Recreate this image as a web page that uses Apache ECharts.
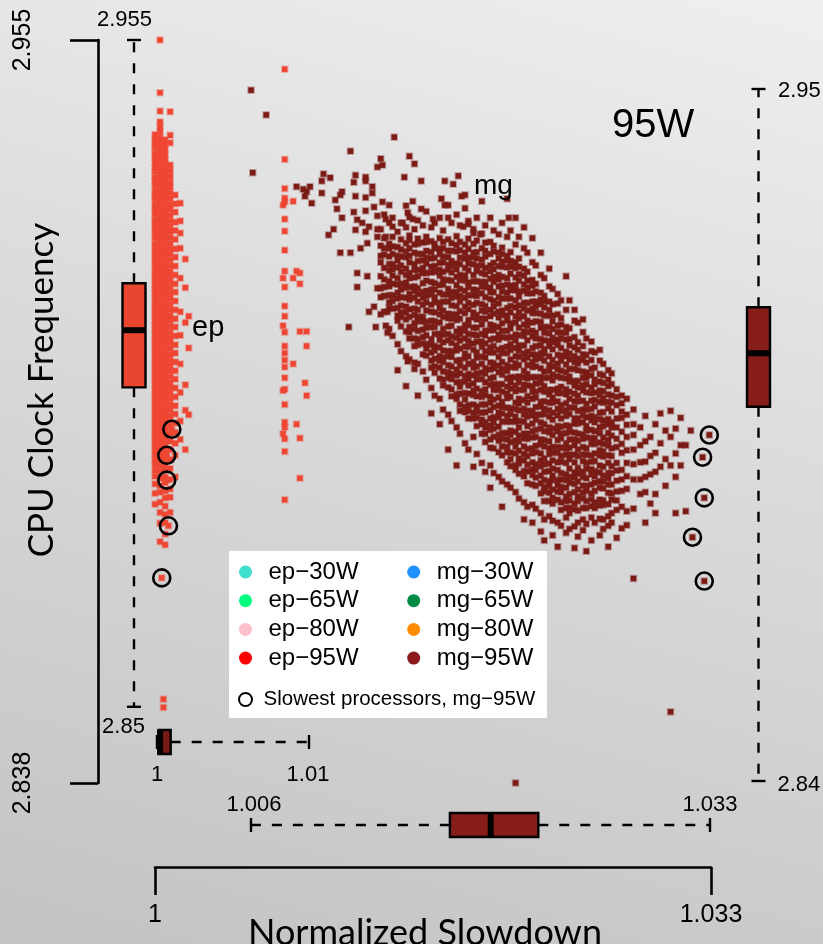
<!DOCTYPE html>
<html>
<head>
<meta charset="utf-8">
<script src="https://cdn.jsdelivr.net/npm/echarts@6/dist/echarts.min.js"></script>
<style>
  html, body { margin: 0; padding: 0; }
  #chart {
    width: 823px; height: 944px;
    background: linear-gradient(195deg, #efefef 0%, #dadada 45%, #c3c3c3 100%);
  }
</style>
</head>
<body>
<div id="chart"></div>
<script>
// Normalized slowdown (x) against CPU clock frequency in GHz (y), 95W power cap.
// Column entries: [slowdown, [frequencies of processors measured at that slowdown]]

const epColumns = [
  [1.0000, [2.9401, 2.9394, 2.9386, 2.9380, 2.9371, 2.9365, 2.9357, 2.9349, 2.9343, 2.9334, 2.9328, 2.9320, 2.9311, 2.9305, 2.9298, 2.9289, 2.9283, 2.9276, 2.9267, 2.9261, 2.9253, 2.9246, 2.9239, 2.9230, 2.9224, 2.9217, 2.9209, 2.9202, 2.9195, 2.9187, 2.9180, 2.9173, 2.9165, 2.9159, 2.9151, 2.9144, 2.9136, 2.9130, 2.9122, 2.9115, 2.9107, 2.9101, 2.9093, 2.9086, 2.9078, 2.9072, 2.9064, 2.9057, 2.9049, 2.9043, 2.9035, 2.9028, 2.9020, 2.9014, 2.9006, 2.8999, 2.8991, 2.8985, 2.8977, 2.8970, 2.8962, 2.8956, 2.8948, 2.8941, 2.8933, 2.8927, 2.8919, 2.8912, 2.8904, 2.8897, 2.8889, 2.8881, 2.8872, 2.8863, 2.8851, 2.8836, 2.8819]],
  [1.0003, [2.9550, 2.9467, 2.9438, 2.9421, 2.9413, 2.9406, 2.9397, 2.9391, 2.9383, 2.9375, 2.9368, 2.9361, 2.9353, 2.9346, 2.9338, 2.9331, 2.9324, 2.9316, 2.9309, 2.9301, 2.9294, 2.9287, 2.9279, 2.9272, 2.9264, 2.9257, 2.9250, 2.9242, 2.9235, 2.9227, 2.9220, 2.9213, 2.9205, 2.9198, 2.9190, 2.9183, 2.9176, 2.9168, 2.9161, 2.9153, 2.9146, 2.9139, 2.9131, 2.9124, 2.9116, 2.9109, 2.9102, 2.9094, 2.9087, 2.9079, 2.9072, 2.9065, 2.9057, 2.9050, 2.9042, 2.9035, 2.9028, 2.9020, 2.9013, 2.9005, 2.8998, 2.8991, 2.8983, 2.8976, 2.8968, 2.8961, 2.8954, 2.8946, 2.8939, 2.8931, 2.8924, 2.8917, 2.8909, 2.8902, 2.8894, 2.8887, 2.8879, 2.8870, 2.8860, 2.8848, 2.8838, 2.8822, 2.8806, 2.8789, 2.8760]],
  [1.0006, [2.9393, 2.9385, 2.9377, 2.9370, 2.9362, 2.9355, 2.9347, 2.9340, 2.9332, 2.9325, 2.9317, 2.9310, 2.9302, 2.9295, 2.9287, 2.9280, 2.9272, 2.9265, 2.9257, 2.9250, 2.9242, 2.9235, 2.9227, 2.9220, 2.9212, 2.9205, 2.9197, 2.9190, 2.9182, 2.9175, 2.9167, 2.9160, 2.9152, 2.9145, 2.9137, 2.9130, 2.9122, 2.9115, 2.9107, 2.9100, 2.9092, 2.9085, 2.9077, 2.9070, 2.9062, 2.9055, 2.9047, 2.9040, 2.9032, 2.9025, 2.9017, 2.9010, 2.9002, 2.8995, 2.8987, 2.8980, 2.8972, 2.8965, 2.8957, 2.8950, 2.8942, 2.8935, 2.8927, 2.8920, 2.8912, 2.8905, 2.8897, 2.8890, 2.8881, 2.8873, 2.8862, 2.8853, 2.8840, 2.8829, 2.8816, 2.8803, 2.8790, 2.8772, 2.8755]],
  [1.0009, [2.9437, 2.9400, 2.9388, 2.9353, 2.9344, 2.9335, 2.9326, 2.9318, 2.9309, 2.9300, 2.9291, 2.9283, 2.9274, 2.9265, 2.9256, 2.9248, 2.9239, 2.9230, 2.9221, 2.9213, 2.9204, 2.9195, 2.9186, 2.9178, 2.9169, 2.9160, 2.9151, 2.9143, 2.9134, 2.9125, 2.9116, 2.9108, 2.9099, 2.9090, 2.9081, 2.9073, 2.9064, 2.9055, 2.9046, 2.9038, 2.9029, 2.9020, 2.9011, 2.9003, 2.8994, 2.8985, 2.8976, 2.8968, 2.8959, 2.8950, 2.8941, 2.8930, 2.8918, 2.8905, 2.8889, 2.8875, 2.8858, 2.8843, 2.8830, 2.8806]],
  [1.0012, [2.9306, 2.9292, 2.9279, 2.9263, 2.9250, 2.9236, 2.9221, 2.9208, 2.9194, 2.9180, 2.9166, 2.9153, 2.9139, 2.9125, 2.9111, 2.9098, 2.9084, 2.9070, 2.9057, 2.9043, 2.9029, 2.9016, 2.9002, 2.8988, 2.8974, 2.8961, 2.8947, 2.8932, 2.8915, 2.8896, 2.8862]],
  [1.0015, [2.9293, 2.9265, 2.9246, 2.9222, 2.9175, 2.9122, 2.9085, 2.9040, 2.8995, 2.8950, 2.8921]],
  [1.0018, [2.9205, 2.9160, 2.9105, 2.9007, 2.8967, 2.8905]],
  [1.0020, [2.9115, 2.9065, 2.8960]],
  [1.0005, [2.8512, 2.8499]],
  [1.0076, [2.9290, 2.9175, 2.9100, 2.8998, 2.8930]],
  [1.0077, [2.9504, 2.9362, 2.9316, 2.9301, 2.9295, 2.9268, 2.9249, 2.9219, 2.9186, 2.9161, 2.9131, 2.9115, 2.9090, 2.9068, 2.9057, 2.9046, 2.9035, 2.9018, 2.9000, 2.8976, 2.8948, 2.8940, 2.8922, 2.8902, 2.8826]],
  [1.0082, [2.9296, 2.9175, 2.9040]],
  [1.0084, [2.9186, 2.8945]],
  [1.0086, [2.9183, 2.9166, 2.9091, 2.8923, 2.8860]],
  [1.0089, [2.9010]],
  [1.0090, [2.9091, 2.9068, 2.8990]]
];

// Scattered mg processors around the upper-left of the cloud: [slowdown, frequency]
const mgFringe = [
  [1.0057, 2.9471], [1.0058, 2.9341], [1.0066, 2.9432],
  [1.0142, 2.9397], [1.0116, 2.9375], [1.0151, 2.9367], [1.0134, 2.9363], [1.0135, 2.9353], [1.0132, 2.9350], [1.0154, 2.9355],
  [1.0100, 2.9339], [1.0104, 2.9333], [1.0119, 2.9337], [1.0125, 2.9334], [1.0125, 2.9328], [1.0118, 2.9326], [1.0148, 2.9334],
  [1.0158, 2.9328], [1.0172, 2.9328], [1.0180, 2.9336], [1.0177, 2.9323], [1.0182, 2.9304], [1.0184, 2.9306],
  [1.0084, 2.9319], [1.0088, 2.9315], [1.0090, 2.9311], [1.0092, 2.9319], [1.0099, 2.9309], [1.0089, 2.9304], [1.0093, 2.9293], [1.0099, 2.9328],
  [1.0111, 2.9311], [1.0110, 2.9306], [1.0119, 2.9304], [1.0125, 2.9302], [1.0129, 2.9309], [1.0129, 2.9319], [1.0107, 2.9298],
  [1.0135, 2.9295], [1.0153, 2.9296], [1.0170, 2.9300], [1.0172, 2.9290], [1.0158, 2.9284], [1.0149, 2.9289],
  [1.0108, 2.9284], [1.0118, 2.9279], [1.0125, 2.9281], [1.0130, 2.9287], [1.0132, 2.9273], [1.0137, 2.9268], [1.0111, 2.9270],
  [1.0120, 2.9267], [1.0123, 2.9262], [1.0127, 2.9256], [1.0132, 2.9252], [1.0106, 2.9252], [1.0103, 2.9243], [1.0119, 2.9251],
  [1.0125, 2.9248], [1.0132, 2.9240], [1.0137, 2.9240], [1.0141, 2.9256], [1.0147, 2.9262], [1.0150, 2.9278], [1.0153, 2.9268],
  [1.0165, 2.9268], [1.0174, 2.9270], [1.0186, 2.9265], [1.0183, 2.9256], [1.0189, 2.9246], [1.0193, 2.9244], [1.0210, 2.9270],
  [1.0110, 2.9215], [1.0116, 2.9215], [1.0122, 2.9222], [1.0126, 2.9230], [1.0120, 2.9183], [1.0126, 2.9178], [1.0120, 2.9161],
  [1.0132, 2.9159], [1.0127, 2.9122], [1.0130, 2.9130], [1.0115, 2.9098], [1.0131, 2.9098], [1.0137, 2.9100], [1.0138, 2.9089],
  [1.0150, 2.9044], [1.0154, 2.9042], [1.0138, 2.9122]
];

const mgColumns = [
  [1.0134, [2.9252, 2.9226, 2.9210, 2.9200, 2.9178, 2.9159, 2.9145, 2.9118]],
  [1.0136, [2.9275, 2.9238, 2.9222, 2.9212, 2.9191, 2.9173, 2.9161, 2.9147, 2.9122]],
  [1.0139, [2.9290, 2.9262, 2.9229, 2.9222, 2.9209, 2.9197, 2.9187, 2.9170, 2.9162, 2.9148, 2.9137, 2.9128, 2.9095]],
  [1.0141, [2.9270, 2.9240, 2.9225, 2.9213, 2.9197, 2.9189, 2.9179, 2.9166, 2.9148, 2.9139, 2.9127, 2.9084]],
  [1.0144, [2.9248, 2.9224, 2.9210, 2.9203, 2.9192, 2.9175, 2.9165, 2.9152, 2.9143, 2.9128, 2.9116, 2.9108, 2.9071, 2.9030]],
  [1.0146, [2.9262, 2.9236, 2.9220, 2.9209, 2.9195, 2.9185, 2.9166, 2.9157, 2.9145, 2.9132, 2.9121, 2.9114, 2.9099, 2.9060]],
  [1.0149, [2.9255, 2.9230, 2.9217, 2.9208, 2.9190, 2.9180, 2.9168, 2.9160, 2.9144, 2.9130, 2.9121, 2.9110, 2.9091, 2.9052, 2.9005]],
  [1.0151, [2.9271, 2.9242, 2.9235, 2.9222, 2.9210, 2.9200, 2.9183, 2.9175, 2.9161, 2.9150, 2.9141, 2.9126, 2.9114, 2.9098, 2.9090, 2.9080, 2.9047]],
  [1.0154, [2.9252, 2.9228, 2.9215, 2.9197, 2.9188, 2.9176, 2.9162, 2.9155, 2.9144, 2.9127, 2.9117, 2.9104, 2.9095, 2.9080, 2.9068, 2.9032]],
  [1.0156, [2.9266, 2.9237, 2.9229, 2.9213, 2.9202, 2.9188, 2.9178, 2.9159, 2.9150, 2.9138, 2.9125, 2.9114, 2.9107, 2.9092, 2.9079, 2.9070, 2.9040, 2.8990]],
  [1.0159, [2.9258, 2.9231, 2.9213, 2.9203, 2.9191, 2.9183, 2.9167, 2.9153, 2.9144, 2.9133, 2.9114, 2.9107, 2.9094, 2.9082, 2.9072, 2.9055, 2.9028]],
  [1.0161, [2.9280, 2.9240, 2.9232, 2.9218, 2.9207, 2.9198, 2.9183, 2.9171, 2.9155, 2.9147, 2.9137, 2.9124, 2.9106, 2.9097, 2.9085, 2.9071, 2.9064, 2.9053, 2.9015]],
  [1.0164, [2.9255, 2.9233, 2.9216, 2.9206, 2.9193, 2.9184, 2.9169, 2.9157, 2.9149, 2.9133, 2.9122, 2.9108, 2.9098, 2.9079, 2.9070, 2.9058, 2.9045, 2.9034, 2.9002, 2.8962]],
  [1.0166, [2.9262, 2.9229, 2.9222, 2.9207, 2.9194, 2.9185, 2.9167, 2.9157, 2.9145, 2.9137, 2.9121, 2.9107, 2.9098, 2.9087, 2.9068, 2.9061, 2.9048, 2.9036, 2.9026, 2.8990]],
  [1.0169, [2.9270, 2.9238, 2.9221, 2.9213, 2.9199, 2.9188, 2.9179, 2.9164, 2.9152, 2.9136, 2.9128, 2.9118, 2.9105, 2.9087, 2.9078, 2.9066, 2.9052, 2.9045, 2.9034, 2.9017, 2.8985, 2.8945]],
  [1.0171, [2.9250, 2.9232, 2.9222, 2.9209, 2.9200, 2.9185, 2.9173, 2.9165, 2.9149, 2.9138, 2.9124, 2.9114, 2.9095, 2.9086, 2.9074, 2.9061, 2.9050, 2.9043, 2.9028, 2.9015, 2.9006, 2.8968]],
  [1.0174, [2.9290, 2.9236, 2.9218, 2.9208, 2.9196, 2.9188, 2.9172, 2.9158, 2.9149, 2.9138, 2.9119, 2.9112, 2.9099, 2.9087, 2.9077, 2.9060, 2.9052, 2.9038, 2.9027, 2.9018, 2.9003, 2.8960, 2.8905]],
  [1.0176, [2.9262, 2.9230, 2.9218, 2.9202, 2.9194, 2.9184, 2.9171, 2.9153, 2.9144, 2.9132, 2.9118, 2.9111, 2.9100, 2.9083, 2.9073, 2.9060, 2.9051, 2.9036, 2.9024, 2.9016, 2.9000, 2.8989, 2.8950]],
  [1.0179, [2.9275, 2.9241, 2.9227, 2.9217, 2.9198, 2.9189, 2.9177, 2.9164, 2.9153, 2.9146, 2.9131, 2.9118, 2.9109, 2.9091, 2.9081, 2.9069, 2.9061, 2.9045, 2.9031, 2.9022, 2.9011, 2.8992, 2.8985, 2.8940, 2.8880]],
  [1.0181, [2.9258, 2.9232, 2.9219, 2.9207, 2.9197, 2.9180, 2.9172, 2.9158, 2.9147, 2.9138, 2.9123, 2.9111, 2.9095, 2.9087, 2.9077, 2.9064, 2.9046, 2.9037, 2.9025, 2.9011, 2.9004, 2.8993, 2.8976, 2.8966, 2.8930]],
  [1.0184, [2.9285, 2.9228, 2.9215, 2.9206, 2.9191, 2.9179, 2.9171, 2.9155, 2.9144, 2.9130, 2.9120, 2.9101, 2.9092, 2.9080, 2.9067, 2.9056, 2.9049, 2.9034, 2.9021, 2.9012, 2.8994, 2.8984, 2.8972, 2.8964, 2.8915]],
  [1.0186, [2.9260, 2.9237, 2.9221, 2.9207, 2.9198, 2.9187, 2.9168, 2.9161, 2.9148, 2.9136, 2.9126, 2.9109, 2.9101, 2.9087, 2.9076, 2.9067, 2.9052, 2.9040, 2.9024, 2.9016, 2.9006, 2.8993, 2.8975, 2.8966, 2.8954, 2.8905]],
  [1.0189, [2.9252, 2.9229, 2.9215, 2.9208, 2.9197, 2.9180, 2.9170, 2.9157, 2.9148, 2.9133, 2.9121, 2.9113, 2.9097, 2.9086, 2.9072, 2.9062, 2.9043, 2.9034, 2.9022, 2.9009, 2.8998, 2.8991, 2.8976, 2.8963, 2.8954, 2.8925, 2.8878]],
  [1.0191, [2.9270, 2.9234, 2.9216, 2.9206, 2.9194, 2.9186, 2.9170, 2.9156, 2.9147, 2.9136, 2.9117, 2.9110, 2.9097, 2.9085, 2.9075, 2.9058, 2.9050, 2.9036, 2.9025, 2.9016, 2.9001, 2.8989, 2.8973, 2.8965, 2.8955, 2.8942, 2.8898]],
  [1.0194, [2.9296, 2.9245, 2.9222, 2.9204, 2.9195, 2.9183, 2.9169, 2.9162, 2.9151, 2.9134, 2.9124, 2.9111, 2.9102, 2.9087, 2.9075, 2.9067, 2.9051, 2.9040, 2.9026, 2.9016, 2.8997, 2.8988, 2.8976, 2.8963, 2.8952, 2.8945, 2.8930, 2.8884]],
  [1.0196, [2.9258, 2.9231, 2.9218, 2.9209, 2.9191, 2.9181, 2.9169, 2.9161, 2.9145, 2.9131, 2.9122, 2.9111, 2.9092, 2.9085, 2.9072, 2.9060, 2.9050, 2.9033, 2.9025, 2.9011, 2.9000, 2.8991, 2.8976, 2.8964, 2.8948, 2.8940, 2.8930, 2.8917, 2.8870]],
  [1.0199, [2.9270, 2.9232, 2.9213, 2.9195, 2.9186, 2.9174, 2.9160, 2.9153, 2.9142, 2.9125, 2.9115, 2.9102, 2.9093, 2.9078, 2.9066, 2.9058, 2.9042, 2.9031, 2.9017, 2.9007, 2.8988, 2.8979, 2.8967, 2.8954, 2.8943, 2.8936, 2.8921, 2.8908, 2.8880, 2.8845]],
  [1.0201, [2.9250, 2.9226, 2.9217, 2.9199, 2.9189, 2.9177, 2.9169, 2.9153, 2.9139, 2.9130, 2.9119, 2.9100, 2.9093, 2.9080, 2.9068, 2.9058, 2.9041, 2.9033, 2.9019, 2.9008, 2.8999, 2.8984, 2.8972, 2.8956, 2.8948, 2.8938, 2.8925, 2.8907, 2.8868]],
  [1.0204, [2.9244, 2.9215, 2.9206, 2.9194, 2.9180, 2.9173, 2.9162, 2.9145, 2.9135, 2.9122, 2.9113, 2.9098, 2.9086, 2.9078, 2.9062, 2.9051, 2.9037, 2.9027, 2.9008, 2.8999, 2.8987, 2.8974, 2.8963, 2.8956, 2.8941, 2.8928, 2.8919, 2.8901, 2.8862]],
  [1.0206, [2.9262, 2.9223, 2.9213, 2.9201, 2.9193, 2.9177, 2.9163, 2.9154, 2.9143, 2.9124, 2.9117, 2.9104, 2.9092, 2.9082, 2.9065, 2.9057, 2.9043, 2.9032, 2.9023, 2.9008, 2.8996, 2.8980, 2.8972, 2.8962, 2.8949, 2.8931, 2.8922, 2.8910, 2.8896, 2.8855, 2.8815]],
  [1.0209, [2.9300, 2.9240, 2.9210, 2.9203, 2.9192, 2.9175, 2.9165, 2.9152, 2.9143, 2.9128, 2.9116, 2.9108, 2.9092, 2.9081, 2.9067, 2.9057, 2.9038, 2.9029, 2.9017, 2.9004, 2.8993, 2.8986, 2.8971, 2.8958, 2.8949, 2.8931, 2.8921, 2.8909, 2.8901, 2.8885, 2.8850]],
  [1.0211, [2.9250, 2.9216, 2.9202, 2.9193, 2.9182, 2.9163, 2.9156, 2.9143, 2.9131, 2.9121, 2.9104, 2.9096, 2.9082, 2.9071, 2.9062, 2.9047, 2.9035, 2.9019, 2.9011, 2.9001, 2.8988, 2.8970, 2.8961, 2.8949, 2.8935, 2.8928, 2.8917, 2.8900, 2.8890, 2.8879, 2.8845]],
  [1.0214, [2.9270, 2.9228, 2.9200, 2.9191, 2.9176, 2.9164, 2.9156, 2.9140, 2.9129, 2.9115, 2.9105, 2.9086, 2.9077, 2.9065, 2.9052, 2.9041, 2.9034, 2.9019, 2.9006, 2.8997, 2.8979, 2.8969, 2.8957, 2.8949, 2.8933, 2.8919, 2.8910, 2.8899, 2.8880, 2.8873, 2.8838, 2.8380]],
  [1.0216, [2.9240, 2.9206, 2.9193, 2.9181, 2.9171, 2.9154, 2.9146, 2.9132, 2.9121, 2.9112, 2.9097, 2.9085, 2.9069, 2.9061, 2.9051, 2.9038, 2.9020, 2.9011, 2.8999, 2.8985, 2.8978, 2.8967, 2.8950, 2.8940, 2.8927, 2.8918, 2.8903, 2.8891, 2.8883, 2.8867, 2.8828]],
  [1.0219, [2.9255, 2.9222, 2.9190, 2.9179, 2.9165, 2.9155, 2.9136, 2.9127, 2.9115, 2.9102, 2.9091, 2.9084, 2.9069, 2.9056, 2.9047, 2.9029, 2.9019, 2.9007, 2.8999, 2.8983, 2.8969, 2.8960, 2.8949, 2.8930, 2.8923, 2.8910, 2.8898, 2.8888, 2.8871, 2.8863, 2.8822, 2.8795]],
  [1.0221, [2.9215, 2.9185, 2.9171, 2.9160, 2.9151, 2.9136, 2.9124, 2.9108, 2.9100, 2.9090, 2.9077, 2.9059, 2.9050, 2.9038, 2.9024, 2.9017, 2.9006, 2.8989, 2.8979, 2.8966, 2.8957, 2.8942, 2.8930, 2.8922, 2.8906, 2.8895, 2.8881, 2.8871, 2.8852, 2.8815]],
  [1.0224, [2.9238, 2.9200, 2.9172, 2.9163, 2.9151, 2.9138, 2.9127, 2.9120, 2.9105, 2.9092, 2.9083, 2.9065, 2.9055, 2.9043, 2.9035, 2.9019, 2.9005, 2.8996, 2.8985, 2.8966, 2.8959, 2.8946, 2.8934, 2.8924, 2.8907, 2.8899, 2.8885, 2.8874, 2.8865, 2.8850, 2.8818, 2.8790]],
  [1.0226, [2.9195, 2.9166, 2.9154, 2.9138, 2.9130, 2.9120, 2.9107, 2.9089, 2.9080, 2.9068, 2.9054, 2.9047, 2.9036, 2.9019, 2.9009, 2.8996, 2.8987, 2.8972, 2.8960, 2.8952, 2.8936, 2.8925, 2.8911, 2.8901, 2.8882, 2.8873, 2.8861, 2.8848, 2.8812]],
  [1.0229, [2.9215, 2.9180, 2.9152, 2.9141, 2.9134, 2.9119, 2.9106, 2.9097, 2.9079, 2.9069, 2.9057, 2.9049, 2.9033, 2.9019, 2.9010, 2.8999, 2.8980, 2.8973, 2.8960, 2.8948, 2.8938, 2.8921, 2.8913, 2.8899, 2.8888, 2.8879, 2.8864, 2.8852, 2.8836, 2.8805, 2.8776]],
  [1.0231, [2.9175, 2.9147, 2.9139, 2.9129, 2.9116, 2.9098, 2.9089, 2.9077, 2.9063, 2.9056, 2.9045, 2.9028, 2.9018, 2.9005, 2.8996, 2.8981, 2.8969, 2.8961, 2.8945, 2.8934, 2.8920, 2.8910, 2.8891, 2.8882, 2.8870, 2.8857, 2.8846, 2.8839, 2.8824, 2.8795, 2.8762]],
  [1.0234, [2.9190, 2.9162, 2.9138, 2.9125, 2.9116, 2.9098, 2.9088, 2.9076, 2.9068, 2.9052, 2.9038, 2.9029, 2.9018, 2.8999, 2.8992, 2.8979, 2.8967, 2.8957, 2.8940, 2.8932, 2.8918, 2.8907, 2.8898, 2.8883, 2.8871, 2.8855, 2.8847, 2.8837, 2.8824, 2.8800]],
  [1.0236, [2.9158, 2.9134, 2.9116, 2.9107, 2.9095, 2.9081, 2.9074, 2.9063, 2.9046, 2.9036, 2.9023, 2.9014, 2.8999, 2.8987, 2.8979, 2.8963, 2.8952, 2.8938, 2.8928, 2.8909, 2.8900, 2.8888, 2.8875, 2.8864, 2.8857, 2.8842, 2.8829, 2.8820, 2.8793, 2.8770]],
  [1.0239, [2.9150, 2.9135, 2.9118, 2.9100, 2.9090, 2.9078, 2.9070, 2.9054, 2.9040, 2.9031, 2.9020, 2.9001, 2.8994, 2.8981, 2.8969, 2.8959, 2.8942, 2.8934, 2.8920, 2.8909, 2.8900, 2.8885, 2.8873, 2.8857, 2.8849, 2.8839, 2.8826, 2.8790, 2.8752]],
  [1.0241, [2.9140, 2.9112, 2.9102, 2.9089, 2.9080, 2.9065, 2.9053, 2.9045, 2.9029, 2.9018, 2.9004, 2.8994, 2.8975, 2.8966, 2.8954, 2.8941, 2.8930, 2.8923, 2.8908, 2.8895, 2.8886, 2.8868, 2.8858, 2.8846, 2.8838, 2.8822, 2.8810, 2.8785]],
  [1.0244, [2.9178, 2.9125, 2.9098, 2.9089, 2.9078, 2.9059, 2.9052, 2.9039, 2.9027, 2.9017, 2.9000, 2.8992, 2.8978, 2.8967, 2.8958, 2.8943, 2.8931, 2.8915, 2.8907, 2.8897, 2.8884, 2.8866, 2.8857, 2.8845, 2.8831, 2.8824, 2.8813, 2.8798, 2.8774]],
  [1.0246, [2.9140, 2.9096, 2.9079, 2.9069, 2.9056, 2.9047, 2.9032, 2.9020, 2.9012, 2.8996, 2.8985, 2.8971, 2.8961, 2.8942, 2.8933, 2.8921, 2.8908, 2.8897, 2.8890, 2.8875, 2.8862, 2.8853, 2.8835, 2.8825, 2.8813, 2.8805, 2.8780]],
  [1.0249, [2.9125, 2.9108, 2.9082, 2.9066, 2.9052, 2.9043, 2.9032, 2.9013, 2.9006, 2.8993, 2.8981, 2.8971, 2.8954, 2.8946, 2.8932, 2.8921, 2.8912, 2.8897, 2.8885, 2.8869, 2.8861, 2.8851, 2.8838, 2.8820, 2.8811, 2.8784, 2.8750]],
  [1.0251, [2.9105, 2.9074, 2.9062, 2.9048, 2.9041, 2.9030, 2.9013, 2.9003, 2.8990, 2.8981, 2.8966, 2.8954, 2.8946, 2.8930, 2.8919, 2.8905, 2.8895, 2.8876, 2.8867, 2.8855, 2.8842, 2.8831, 2.8824, 2.8809, 2.8790, 2.8768]],
  [1.0254, [2.9110, 2.9090, 2.9068, 2.9055, 2.9046, 2.9028, 2.9018, 2.9006, 2.8998, 2.8982, 2.8968, 2.8959, 2.8948, 2.8929, 2.8922, 2.8909, 2.8897, 2.8887, 2.8870, 2.8862, 2.8848, 2.8837, 2.8828, 2.8813, 2.8795, 2.8778]],
  [1.0256, [2.9080, 2.9054, 2.9042, 2.9026, 2.9018, 2.9008, 2.8995, 2.8977, 2.8968, 2.8956, 2.8942, 2.8935, 2.8924, 2.8907, 2.8897, 2.8884, 2.8875, 2.8860, 2.8848, 2.8840, 2.8824, 2.8813, 2.8788, 2.8745]],
  [1.0259, [2.9075, 2.9060, 2.9046, 2.9032, 2.9022, 2.9003, 2.8994, 2.8982, 2.8969, 2.8958, 2.8951, 2.8936, 2.8923, 2.8914, 2.8896, 2.8886, 2.8874, 2.8866, 2.8850, 2.8836, 2.8827, 2.8816, 2.8798, 2.8762]],
  [1.0261, [2.9058, 2.9034, 2.9015, 2.9008, 2.8995, 2.8983, 2.8973, 2.8956, 2.8948, 2.8934, 2.8923, 2.8914, 2.8899, 2.8887, 2.8871, 2.8863, 2.8853, 2.8840, 2.8822, 2.8813, 2.8790]],
  [1.0264, [2.9062, 2.9045, 2.9024, 2.9012, 2.8998, 2.8991, 2.8980, 2.8963, 2.8953, 2.8940, 2.8931, 2.8916, 2.8904, 2.8896, 2.8880, 2.8869, 2.8855, 2.8845, 2.8826, 2.8817, 2.8796, 2.8770]],
  [1.0266, [2.9040, 2.9022, 2.9010, 2.8997, 2.8986, 2.8979, 2.8964, 2.8951, 2.8942, 2.8924, 2.8914, 2.8902, 2.8894, 2.8878, 2.8864, 2.8855, 2.8844, 2.8825, 2.8818, 2.8795, 2.8780]],
  [1.0269, [2.9030, 2.9015, 2.9005, 2.8992, 2.8980, 2.8970, 2.8953, 2.8945, 2.8931, 2.8920, 2.8911, 2.8896, 2.8884, 2.8868, 2.8860, 2.8850, 2.8837, 2.8819, 2.8800, 2.8785, 2.8752]],
  [1.0271, [2.9025, 2.9008, 2.8990, 2.8979, 2.8965, 2.8948, 2.8940, 2.8927, 2.8907, 2.8895, 2.8879, 2.8868, 2.8850, 2.8836, 2.8826, 2.8805, 2.8790]],
  [1.0274, [2.9000, 2.8988, 2.8975, 2.8954, 2.8940, 2.8922, 2.8909, 2.8884, 2.8872, 2.8856, 2.8839, 2.8825, 2.8810, 2.8766]],
  [1.0277, [2.8990, 2.8978, 2.8965, 2.8955, 2.8933, 2.8914, 2.8900, 2.8873, 2.8858, 2.8840, 2.8815, 2.8781]],
  [1.0280, [2.8985, 2.8960, 2.8944, 2.8925, 2.8904, 2.8884, 2.8863, 2.8843, 2.8808, 2.8786]],
  [1.0284, [2.8968, 2.8945, 2.8928, 2.8905, 2.8882, 2.8858, 2.8812, 2.8702]],
  [1.0288, [2.8940, 2.8912, 2.8885, 2.8858, 2.8835]],
  [1.0291, [2.8958, 2.8918, 2.8886, 2.8862, 2.8838, 2.8790]],
  [1.0294, [2.8925, 2.8895, 2.8866, 2.8820]],
  [1.0297, [2.8945, 2.8900, 2.8870, 2.8835, 2.8805]],
  [1.0300, [2.8962, 2.8915, 2.8878]],
  [1.0303, [2.8935, 2.8890, 2.8848]],
  [1.0306, [2.8966, 2.8925, 2.8880, 2.8492]],
  [1.0309, [2.8938, 2.8899, 2.8862, 2.8805]],
  [1.0312, [2.8955, 2.8912, 2.8880]],
  [1.0315, [2.8912, 2.8808]],
  [1.0318, [2.8935]]
];

// The five slowest mg-95W processors, and the same processors under ep
const mgSlowest = [[1.0329, 2.8928], [1.0325, 2.8893], [1.0326, 2.8829], [1.0319, 2.8767], [1.0326, 2.8698]];
const epSlowest = [[1.0010, 2.8937], [1.0007, 2.8896], [1.0007, 2.8857], [1.0008, 2.8785], [1.0004, 2.8703]];

// Marginal box statistics: [min, Q1, median, Q3, max]
const epFreqBox = [2.85, 2.9003, 2.9093, 2.9167, 2.955];
const mgFreqBox = [2.84, 2.8995, 2.9080, 2.9153, 2.95];
const epSlowBox = [1, 1.0001, 1.0002, 1.0009, 1.01];
const mgSlowBox = [1.006, 1.0177, 1.0201, 1.0229, 1.033];

// Axis brackets
const slowRange = [1, 1.033];
const freqRange = [2.838, 2.955];

const legendNames = ['ep−30W', 'ep−65W', 'ep−80W', 'ep−95W', 'mg−30W', 'mg−65W', 'mg−80W', 'mg−95W'];
const legendColors = ['#40e0d0', '#00ff7f', '#ffc0cb', '#ff0000', '#1e90ff', '#008b45', '#ff8c00', '#8b1a1a'];
const slowestName = 'Slowest processors, mg−95W';

const toPoints = cols => cols.flatMap(([s, fs]) => fs.map(f => [s, f]));
const epPoints = toPoints(epColumns).concat(epSlowest);
const mgPoints = mgFringe.concat(toPoints(mgColumns), mgSlowest);

const EP_COLOR = '#ee4632';
const MG_COLOR = '#7b1b16';
const NUM_FONT = '"Liberation Sans", Arial, Helvetica, sans-serif';
const TITLE_FONT = 'Lato, "Open Sans", sans-serif';

function boxRenderer(cfg) {
  return function (params, api) {
    const v = [0, 1, 2, 3, 4].map(i => api.value(i));
    const p = v.map(val => cfg.vertical ? api.coord([0.5, val]) : api.coord([val, 0.5]));
    const seg = (a, b, style) => ({ type: 'line', shape: { x1: a[0], y1: a[1], x2: b[0], y2: b[1] }, style });
    const dashed = { stroke: '#000', lineWidth: 2.4, lineDash: [10, 11] };
    const solid = { stroke: '#000', lineWidth: 2.4 };
    const hw = cfg.half, cw = 7;
    const kids = [];
    if (cfg.vertical) {
      const cx = p[0][0];
      kids.push(seg(p[1], p[0], dashed), seg(p[3], p[4], dashed));
      kids.push(seg([cx - cw, p[0][1]], [cx + cw, p[0][1]], solid));
      kids.push(seg([cx - cw, p[4][1]], [cx + cw, p[4][1]], solid));
      kids.push({ type: 'rect', shape: { x: cx - hw, y: p[3][1], width: 2 * hw, height: p[1][1] - p[3][1] },
        style: { fill: cfg.color, stroke: '#000', lineWidth: 2.4 } });
      kids.push(seg([cx - hw, p[2][1]], [cx + hw, p[2][1]], { stroke: '#000', lineWidth: 6 }));
    } else {
      const cy = p[0][1];
      kids.push(seg(p[1], p[0], dashed), seg(p[3], p[4], dashed));
      kids.push(seg([p[0][0], cy - cw], [p[0][0], cy + cw], solid));
      kids.push(seg([p[4][0], cy - cw], [p[4][0], cy + cw], solid));
      kids.push({ type: 'rect', shape: { x: p[1][0], y: cy - hw, width: p[3][0] - p[1][0], height: 2 * hw },
        style: { fill: cfg.color, stroke: '#000', lineWidth: 2.4 } });
      kids.push(seg([p[2][0], cy - hw], [p[2][0], cy + hw], { stroke: '#000', lineWidth: 6 }));
    }
    [0, 4].forEach((idx, k) => {
      const off = cfg.labels[k];
      kids.push({ type: 'text', x: p[idx][0] + off[0], y: p[idx][1] + off[1],
        style: { text: String(v[idx]), fontSize: 22, fontFamily: NUM_FONT, fill: '#000',
                 align: off[2], verticalAlign: 'middle' } });
    });
    return { type: 'group', children: kids };
  };
}

const hiddenAxis = (gridIndex, min, max) => ({ gridIndex, type: 'value', min, max, show: false });
const fmt = v => String(+v.toFixed(3));

const chart = echarts.init(document.getElementById('chart'), null, { renderer: 'canvas' });

const emptySeries = legendNames
  .filter(n => n !== 'ep−95W' && n !== 'mg−95W')
  .map(n => ({ name: n, type: 'scatter', data: [], itemStyle: { color: legendColors[legendNames.indexOf(n)] } }));

const pointLayer = (name, data, color, size, opacity, z) => ({
  name, type: 'scatter', xAxisIndex: 0, yAxisIndex: 0, data, clip: false, silent: true,
  symbol: 'rect', symbolSize: size, z, itemStyle: { color, opacity }
});

chart.setOption({
  animation: false,
  backgroundColor: 'transparent',
  grid: [
    { left: 155, top: 40, width: 556, height: 743 },
    { left: 122, top: 40, width: 24, height: 743 },
    { left: 747, top: 89, width: 23, height: 692 },
    { left: 157, top: 729, width: 152, height: 26 },
    { left: 251, top: 813, width: 459, height: 24 }
  ],
  xAxis: [
    {
      gridIndex: 0, type: 'value', min: slowRange[0], max: slowRange[1], interval: slowRange[1] - slowRange[0],
      position: 'bottom', offset: 84,
      axisLine: { show: true, lineStyle: { color: '#000', width: 2.6 } },
      axisTick: { show: true, length: 28, lineStyle: { color: '#000', width: 2.6 } },
      axisLabel: { show: true, margin: 36, color: '#000', fontSize: 25, fontFamily: NUM_FONT, formatter: fmt,
                   showMinLabel: true, showMaxLabel: true },
      splitLine: { show: false }
    },
    hiddenAxis(1, 0, 1),
    hiddenAxis(2, 0, 1),
    hiddenAxis(3, 1, 1.01),
    hiddenAxis(4, 1.006, 1.033)
  ],
  yAxis: [
    {
      gridIndex: 0, type: 'value', min: freqRange[0], max: freqRange[1], interval: freqRange[1] - freqRange[0],
      position: 'left', offset: 57,
      axisLine: { show: true, lineStyle: { color: '#000', width: 2.6 } },
      axisTick: { show: true, length: 28, lineStyle: { color: '#000', width: 2.6 } },
      axisLabel: { show: true, rotate: 90, margin: 62, color: '#000', fontSize: 25, fontFamily: NUM_FONT, formatter: fmt,
                   showMinLabel: true, showMaxLabel: true },
      splitLine: { show: false }
    },
    hiddenAxis(1, 2.838, 2.955),
    hiddenAxis(2, 2.84, 2.95),
    hiddenAxis(3, 0, 1),
    hiddenAxis(4, 0, 1)
  ],
  legend: [
    {
      data: legendNames.map((n, i) => ({ name: n, itemStyle: { color: legendColors[i], borderWidth: 0, opacity: 1 } })),
      orient: 'vertical', left: 234, top: 555, height: 112, itemGap: 4.7,
      itemWidth: 36, itemHeight: 13, icon: 'circle', selectedMode: false, z: 20,
      textStyle: { fontSize: 24, fontFamily: NUM_FONT, color: '#000', width: 134, lineHeight: 24 }
    },
    {
      data: [{ name: slowestName, itemStyle: { color: '#fff', borderColor: '#000', borderWidth: 2, opacity: 1 } }],
      left: 233, top: 684, itemWidth: 26, itemHeight: 13, icon: 'circle', selectedMode: false, z: 20,
      textStyle: { fontSize: 20.5, fontFamily: NUM_FONT, color: '#000' }
    }
  ],
  graphic: [
    { type: 'rect', z: 10, shape: { x: 229, y: 551, width: 318, height: 167 }, style: { fill: '#fff' } },
    { type: 'text', x: 42, y: 390, rotation: Math.PI / 2, z: 10,
      style: { text: 'CPU Clock Frequency', fontSize: 35, fontFamily: TITLE_FONT, fill: '#000', align: 'center', verticalAlign: 'middle' } },
    { type: 'text', x: 425, y: 933, z: 10,
      style: { text: 'Normalized Slowdown', fontSize: 36, fontFamily: TITLE_FONT, fill: '#000', align: 'center', verticalAlign: 'middle' } },
    { type: 'text', x: 612, y: 126, z: 10,
      style: { text: '95W', fontSize: 40, fontFamily: NUM_FONT, fill: '#000', align: 'left', verticalAlign: 'middle' } },
    { type: 'text', x: 192, y: 328, z: 10,
      style: { text: 'ep', fontSize: 29, fontFamily: NUM_FONT, fill: '#000', align: 'left', verticalAlign: 'middle' } },
    { type: 'text', x: 474, y: 186, z: 10,
      style: { text: 'mg', fontSize: 28, fontFamily: NUM_FONT, fill: '#000', align: 'left', verticalAlign: 'middle' } }
  ],
  series: [
    ...emptySeries,
    // soft rim under each square, as in the printed scatter
    pointLayer(undefined, epPoints, EP_COLOR, 7.5, 0.32, 1),
    pointLayer(undefined, mgPoints, MG_COLOR, 7.5, 0.35, 1),
    pointLayer('ep−95W', epPoints, EP_COLOR, 5.5, 1, 2),
    pointLayer('mg−95W', mgPoints, MG_COLOR, 5.5, 1, 2),
    {
      name: slowestName, type: 'scatter', xAxisIndex: 0, yAxisIndex: 0, data: epSlowest.concat(mgSlowest),
      clip: false, silent: true, symbol: 'circle', symbolSize: 17, z: 5,
      itemStyle: { color: 'rgba(0,0,0,0)', borderColor: '#000', borderWidth: 2.6, opacity: 1 }
    },
    {
      type: 'custom', xAxisIndex: 1, yAxisIndex: 1, data: [epFreqBox], clip: false, silent: true, z: 3,
      renderItem: boxRenderer({ vertical: true, half: 11.5, color: '#e9452f',
        labels: [[-10.5, 20, 'center'], [-9.5, -20, 'center']] })
    },
    {
      type: 'custom', xAxisIndex: 2, yAxisIndex: 2, data: [mgFreqBox], clip: false, silent: true, z: 3,
      renderItem: boxRenderer({ vertical: true, half: 11.5, color: '#861d18',
        labels: [[19, 4, 'left'], [19.5, 2, 'left']] })
    },
    {
      type: 'custom', xAxisIndex: 3, yAxisIndex: 3, data: [epSlowBox], clip: false, silent: true, z: 3,
      renderItem: boxRenderer({ vertical: false, half: 12, color: '#7a1a14',
        labels: [[0, 33, 'center'], [-1, 33, 'center']] })
    },
    {
      type: 'custom', xAxisIndex: 4, yAxisIndex: 4, data: [mgSlowBox], clip: false, silent: true, z: 3,
      renderItem: boxRenderer({ vertical: false, half: 12, color: '#861d18',
        labels: [[3, -20, 'center'], [0, -20, 'center']] })
    }
  ]
});
</script>
</body>
</html>
